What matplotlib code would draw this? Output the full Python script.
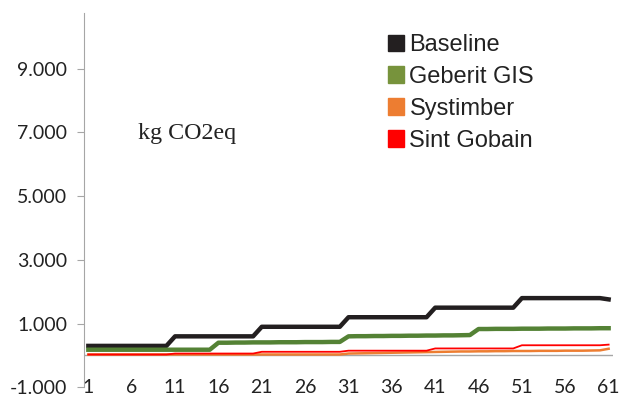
import matplotlib
matplotlib.use('Agg')
import matplotlib.pyplot as plt
from matplotlib.patches import Patch
from matplotlib.ticker import FuncFormatter

# values, periods 1..61 (kg CO2eq)
periods = list(range(1, 62))
baseline = [300] * 10 + [600] * 10 + [900] * 10 + [1200] * 10 + [1500] * 10 + [1800] * 10 + [1760]
geberit = ([180] * 15 +
           [400, 400, 405, 405, 410, 410, 410, 415, 415, 415, 420, 420, 420, 425, 425] +
           [600, 605, 605, 610, 610, 615, 615, 620, 620, 625, 625, 630, 630, 635, 640] +
           [830, 830, 835, 835, 835, 840, 840, 840, 845, 845, 845, 850, 850, 850, 855, 855])
systimber = [30] * 30 + [60, 65, 70, 75, 80, 85, 90, 95, 100, 105, 110, 115, 120, 125, 125,
                         130, 130, 135, 135, 140, 140, 140, 145, 145, 145, 150, 150, 150, 155, 160, 210]
gobain = [30] * 10 + [60] * 10 + [115] * 10 + [150] * 10 + [220] * 10 + [320] * 10 + [340]

series = [
    ('Baseline', baseline, '#231f20', 3.2, '#231f20'),
    ('Geberit GIS', geberit, '#548235', 3.2, '#77933c'),
    ('Systimber', systimber, '#ed7d31', 1.8, '#ed7d31'),
    ('Sint Gobain', gobain, '#ff0000', 1.3, '#ff0000'),
]

fig = plt.figure(figsize=(6.35, 3.99), dpi=100)
ax = fig.add_axes([0.1323, 0.0293, 0.833, 0.9381])

ax.axhline(0, color='#a6a6a6', lw=1.0, zorder=1)
for name, vals, col, lw, _ in series:
    ax.plot(periods, vals, color=col, lw=lw, solid_joinstyle='round', zorder=2)

ax.set_xlim(0.5, 61.5)
ax.set_ylim(-1000, 10750)
ax.set_xticks(list(range(1, 62, 5)))
ax.set_yticks(list(range(-1000, 10000, 2000)))
ax.yaxis.set_major_formatter(FuncFormatter(lambda v, p: f'{int(v):,}'.replace(',', '.')))

for s in ['top', 'right', 'bottom']:
    ax.spines[s].set_visible(False)
ax.spines['left'].set_color('#a6a6a6')
ax.tick_params(axis='y', length=5, color='#a6a6a6', pad=7, labelsize=14, labelcolor='#222222')
ax.tick_params(axis='x', length=0, pad=0, labelsize=14, labelcolor='#222222')
for lbl in ax.get_xticklabels():
    lbl.set_va('center')
for lbl in ax.get_xticklabels() + ax.get_yticklabels():
    lbl.set_family('Lato')

ax.text(0.103, 0.679, 'kg CO2eq', transform=ax.transAxes, family='Liberation Serif',
        fontsize=17.3, va='center', ha='left', color='#222222')

handles = [Patch(facecolor=lc, edgecolor=lc, label=n) for n, _, _, _, lc in series]
leg = ax.legend(handles=handles, loc='upper left', bbox_to_anchor=(0.575, 0.944),
                frameon=False, handlelength=0.68, handleheight=0.68,
                handletextpad=0.22, labelspacing=0.42, borderaxespad=0, borderpad=0,
                prop={'family': 'Liberation Sans', 'size': 17})
for t in leg.get_texts():
    t.set_color('#222222')

fig.savefig('out.png', dpi=100)
